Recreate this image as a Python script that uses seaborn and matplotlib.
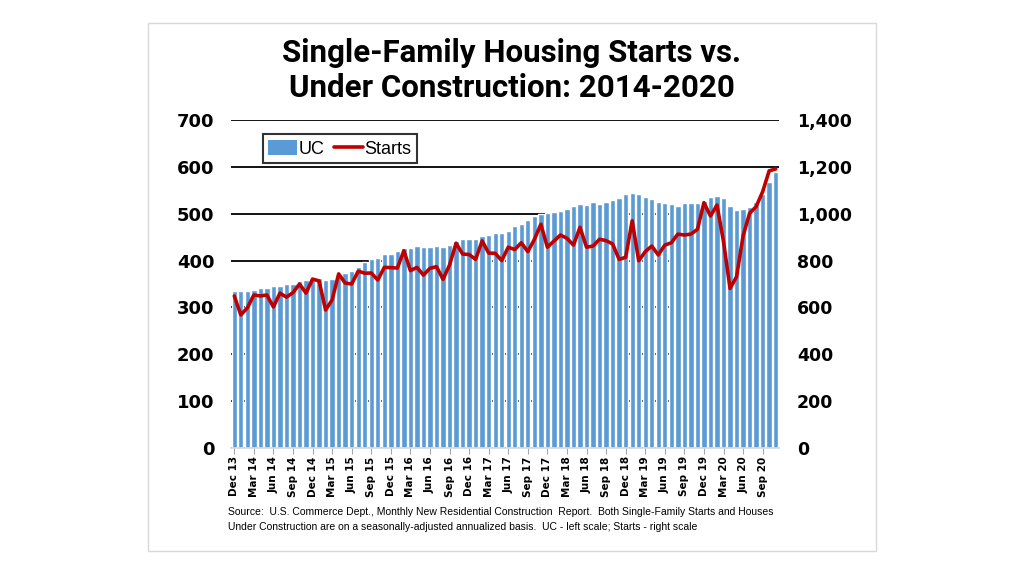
import matplotlib.pyplot as plt
import seaborn as sns
import numpy as np
import pandas as pd
from matplotlib.patches import Patch, Rectangle
from matplotlib.lines import Line2D
from matplotlib.ticker import FuncFormatter

# Single-family houses under construction (left scale, thousands), Dec 2013 - Nov 2020
uc = [
    336, 336, 336, 337, 341, 342, 346, 345, 350, 351, 356, 358,
    362, 363, 358, 360, 368, 373, 378, 386, 396, 403, 405, 414,
    414, 421, 426, 426, 431, 430, 430, 432, 430, 433, 442, 445,
    447, 445, 453, 455, 459, 459, 464, 473, 479, 486, 495, 499,
    502, 504, 506, 510, 517, 520, 519, 526, 520, 526, 529, 533,
    541, 545, 543, 536, 531, 524, 523, 520, 517, 522, 522, 522,
    528, 535, 538, 533, 516, 508, 509, 515, 526, 543, 568, 590,
]
# Single-family starts (right scale, thousands SAAR)
starts = [
    649, 568, 598, 653, 649, 653, 602, 661, 644, 663, 700, 661,
    721, 713, 589, 632, 743, 704, 700, 755, 746, 747, 717, 771,
    770, 768, 842, 757, 771, 738, 767, 774, 720, 781, 874, 828,
    826, 805, 884, 832, 831, 800, 857, 847, 876, 838, 890, 955,
    857, 883, 909, 895, 866, 942, 857, 862, 891, 885, 871, 805,
    814, 970, 799, 838, 862, 824, 866, 876, 913, 909, 913, 933,
    1047, 990, 1037, 881, 681, 731, 905, 1002, 1030, 1094, 1183, 1191,
]
# every third month gets a label
tick_labels = [
    'Dec 13', 'Mar 14', 'Jun 14', 'Sep 14', 'Dec 14', 'Mar 15', 'Jun 15',
    'Sep 15', 'Dec 15', 'Mar 16', 'Jun 16', 'Sep 16', 'Dec 16', 'Mar 17',
    'Jun 17', 'Sep 17', 'Dec 17', 'Mar 18', 'Jun 18', 'Sep 18', 'Dec 18',
    'Mar 19', 'Jun 19', 'Sep 19', 'Dec 19', 'Mar 20', 'Jun 20', 'Sep 20',
]

data = pd.DataFrame({'idx': np.arange(len(uc)), 'UC': uc, 'Starts': starts})

sns.set_theme(style="white")
plt.rcParams['font.family'] = ['DejaVu Sans']
plt.rcParams['text.color'] = 'black'
plt.rcParams['xtick.color'] = 'black'
plt.rcParams['ytick.color'] = 'black'

fig = plt.figure(figsize=(10.24, 5.76), dpi=100)
fig.patches.append(Rectangle((0.1445, 0.0434), 0.711, 0.9167, transform=fig.transFigure,
                             fill=False, edgecolor='#D9D9D9', linewidth=1))
ax = fig.add_axes([0.2256, 0.2222, 0.5351, 0.5695])

blue = '#5B9BD5'
red = '#C00000'

sns.barplot(data=data, x='idx', y='UC', color=blue, saturation=1, width=0.82, ax=ax, zorder=2)
ax.set_axisbelow(True)
ax.set_ylim(0, 700)
ax.set_yticks(range(0, 701, 100))
ax.yaxis.grid(True, color='black', linewidth=1.3)
ax.set_xlim(-0.5, len(uc) - 0.5)
ax.set_xticks(np.arange(0, len(uc), 3))
ax.set_xticklabels(tick_labels, rotation=90, fontsize=7.5, fontweight='bold')
ax.tick_params(axis='x', length=4, width=0.8, color='#A6A6A6', labelcolor='black', pad=2, bottom=True)
ax.tick_params(axis='y', length=0, labelsize=13, labelcolor='black', pad=12)
for t in ax.get_yticklabels():
    t.set_fontweight('bold')
ax.set_xlabel('')
ax.set_ylabel('')
for s in ['top', 'left', 'right']:
    ax.spines[s].set_visible(False)
ax.spines['bottom'].set_color('#D9D9D9')

ax2 = ax.twinx()
sns.lineplot(data=data, x='idx', y='Starts', color=red, linewidth=2.6, ax=ax2)
ax2.set_ylim(0, 1400)
ax2.set_yticks(range(0, 1401, 200))
ax2.yaxis.set_major_formatter(FuncFormatter(lambda v, p: f'{int(v):,}'))
ax2.tick_params(axis='y', length=0, labelsize=12.5, labelcolor='black', pad=13)
for t in ax2.get_yticklabels():
    t.set_fontweight('bold')
ax2.set_ylabel('')
ax2.set_xlabel('')
ax2.grid(False)
for s in ax2.spines.values():
    s.set_visible(False)

handles = [Patch(facecolor=blue, edgecolor='none'), Line2D([0], [0], color=red, linewidth=2.6)]
leg = ax.legend(handles, ['UC', 'Starts'], loc='upper left', bbox_to_anchor=(0.058, 0.956),
                ncol=2, frameon=True, fancybox=False, edgecolor='black',
                prop={'family': 'Liberation Sans', 'size': 13},
                handlelength=1.6, handleheight=0.9, handletextpad=0.1, columnspacing=0.5,
                borderpad=0.3, borderaxespad=0)
leg.get_frame().set_linewidth(1.5)
leg.set_zorder(5)

fig.text(0.5, 0.8924, 'Single-Family Housing Starts vs.', ha='center', va='baseline',
         fontsize=22.5, fontweight='bold', family='Roboto')
fig.text(0.5, 0.8316, 'Under Construction: 2014-2020', ha='center', va='baseline',
         fontsize=22.5, fontweight='bold', family='Roboto')

fig.text(0.223, 0.098,
         'Source:  U.S. Commerce Dept., Monthly New Residential Construction  Report.  '
         'Both Single-Family Starts and Houses\nUnder Construction are on a seasonally-adjusted '
         'annualized basis.  UC - left scale; Starts - right scale',
         ha='left', va='center', fontsize=7.5, family='Liberation Sans', linespacing=1.6)

fig.savefig('out.png', dpi=100, facecolor='white')
